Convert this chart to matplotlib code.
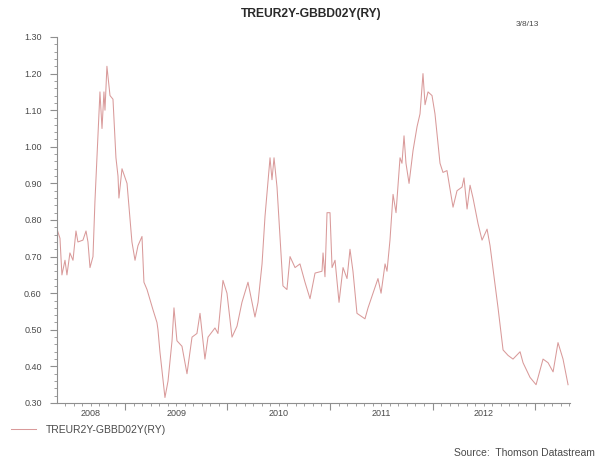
import matplotlib.pyplot as plt
from matplotlib.ticker import MultipleLocator, FixedLocator, NullFormatter, FormatStrFormatter
from matplotlib.transforms import blended_transform_factory

plt.rcParams['font.family'] = ['Liberation Sans', 'DejaVu Sans']

series_name = 'TREUR2Y-GBBD02Y(RY)'
chart_date = '3/8/13'
source_note = 'Source:  Thomson Datastream'

# time as decimal years, spread in percentage points
years = [
    2008.337, 2008.366, 2008.385, 2008.415, 2008.434, 2008.463, 2008.493, 2008.522,
    2008.541, 2008.590, 2008.620, 2008.639, 2008.659, 2008.688, 2008.707, 2008.727,
    2008.756, 2008.776, 2008.795, 2008.805, 2008.824, 2008.854, 2008.883, 2008.912,
    2008.932, 2008.941, 2008.971, 2009.020, 2009.068, 2009.098, 2009.127, 2009.166,
    2009.185, 2009.215, 2009.273, 2009.312, 2009.322, 2009.341, 2009.390, 2009.420,
    2009.459, 2009.478, 2009.507, 2009.556, 2009.605, 2009.654, 2009.702, 2009.732,
    2009.780, 2009.810, 2009.878, 2009.907, 2009.956, 2009.995, 2010.044, 2010.093,
    2010.141, 2010.200, 2010.268, 2010.298, 2010.337, 2010.366, 2010.415, 2010.434,
    2010.454, 2010.483, 2010.532, 2010.541, 2010.580, 2010.610, 2010.659, 2010.707,
    2010.756, 2010.805, 2010.854, 2010.922, 2010.932, 2010.951, 2010.971, 2011.000,
    2011.020, 2011.049, 2011.088, 2011.127, 2011.166, 2011.195, 2011.224, 2011.263,
    2011.341, 2011.371, 2011.420, 2011.468, 2011.498, 2011.537, 2011.556, 2011.585,
    2011.615, 2011.644, 2011.683, 2011.702, 2011.722, 2011.741, 2011.771, 2011.810,
    2011.849, 2011.878, 2011.907, 2011.927, 2011.956, 2011.995, 2012.024, 2012.073,
    2012.102, 2012.141, 2012.200, 2012.239, 2012.288, 2012.307, 2012.337, 2012.366,
    2012.395, 2012.444, 2012.483, 2012.532, 2012.561, 2012.639, 2012.688, 2012.737,
    2012.785, 2012.854, 2012.883, 2012.951, 2013.010, 2013.078, 2013.127, 2013.176,
    2013.224, 2013.273, 2013.322,
]
spread = [
    0.775, 0.75, 0.65, 0.69, 0.65, 0.71, 0.69, 0.77,
    0.74, 0.745, 0.77, 0.74, 0.67, 0.70, 0.85, 0.97,
    1.15, 1.05, 1.15, 1.10, 1.22, 1.14, 1.13, 0.97,
    0.92, 0.86, 0.94, 0.90, 0.74, 0.69, 0.73, 0.755,
    0.63, 0.61, 0.555, 0.52, 0.50, 0.44, 0.315, 0.36,
    0.47, 0.56, 0.47, 0.455, 0.38, 0.48, 0.49, 0.545,
    0.42, 0.48, 0.505, 0.49, 0.635, 0.60, 0.48, 0.51,
    0.575, 0.63, 0.535, 0.575, 0.68, 0.81, 0.97, 0.91,
    0.97, 0.89, 0.66, 0.62, 0.61, 0.70, 0.67, 0.68,
    0.63, 0.585, 0.655, 0.66, 0.71, 0.645, 0.82, 0.82,
    0.67, 0.69, 0.575, 0.67, 0.64, 0.72, 0.66, 0.545,
    0.53, 0.56, 0.60, 0.64, 0.60, 0.68, 0.66, 0.745,
    0.87, 0.82, 0.97, 0.955, 1.03, 0.955, 0.90, 0.99,
    1.055, 1.09, 1.20, 1.115, 1.15, 1.14, 1.09, 0.955,
    0.93, 0.935, 0.835, 0.88, 0.89, 0.915, 0.83, 0.895,
    0.86, 0.79, 0.745, 0.775, 0.73, 0.56, 0.445, 0.43,
    0.42, 0.44, 0.41, 0.37, 0.35, 0.42, 0.41, 0.385,
    0.465, 0.42, 0.35,
]
year_labels = [2008, 2009, 2010, 2011, 2012]

x_start, x_end = 2008.337, 2013.341
line_color = '#d99a9a'
axis_color = '#8f8f8f'
text_color = '#4a4a4a'

fig = plt.figure(figsize=(6.04, 4.59), dpi=100)
ax = fig.add_axes([57 / 604, 1 - 403 / 459, (570 - 57) / 604, (403 - 37) / 459])

line, = ax.plot(years, spread, color=line_color, lw=0.75, label=series_name)

ax.set_xlim(x_start, x_end)
ax.set_ylim(0.30, 1.30)

for side in ['top', 'right']:
    ax.spines[side].set_visible(False)
for side in ['left', 'bottom']:
    ax.spines[side].set_color(axis_color)
    ax.spines[side].set_linewidth(0.8)

ax.yaxis.set_major_locator(MultipleLocator(0.1))
ax.yaxis.set_minor_locator(MultipleLocator(0.02))
ax.yaxis.set_major_formatter(FormatStrFormatter('%.2f'))

# year boundaries get the long ticks, months the short ones
ax.xaxis.set_major_locator(FixedLocator([2009, 2010, 2011, 2012, 2013]))
ax.xaxis.set_minor_locator(MultipleLocator(1 / 12))
ax.xaxis.set_major_formatter(NullFormatter())

ax.tick_params(axis='both', which='major', length=5, width=0.8, color=axis_color,
               labelsize=6.5, labelcolor=text_color, pad=6)
ax.tick_params(axis='both', which='minor', length=2.5, width=0.6, color=axis_color)

# year names sit in the middle of the visible part of each year
trans = blended_transform_factory(ax.transData, ax.transAxes)
for yr in year_labels:
    lo = max(yr, x_start)
    hi = min(yr + 1, x_end)
    ax.text((lo + hi) / 2, -0.028, str(yr), transform=trans, ha='center', va='center',
            fontsize=6.5, color=text_color)

fig.text(311 / 604, 1 - 14 / 459, series_name, ha='center', va='center',
         fontsize=8.7, fontweight='bold', color='#2a2a2a')
fig.text(527 / 604, 1 - 25 / 459, chart_date, ha='center', va='center',
         fontsize=6, color=text_color)

fig.legend(handles=[line], loc='center left', bbox_to_anchor=(2 / 604, 1 - 430 / 459),
           frameon=False, fontsize=7.5, handlelength=2.4, handletextpad=0.9,
           labelcolor=text_color)

fig.text(595 / 604, 1 - 453 / 459, source_note, ha='right', va='center',
         fontsize=7.5, color=text_color)

fig.savefig('out.png', dpi=100, facecolor='white')
